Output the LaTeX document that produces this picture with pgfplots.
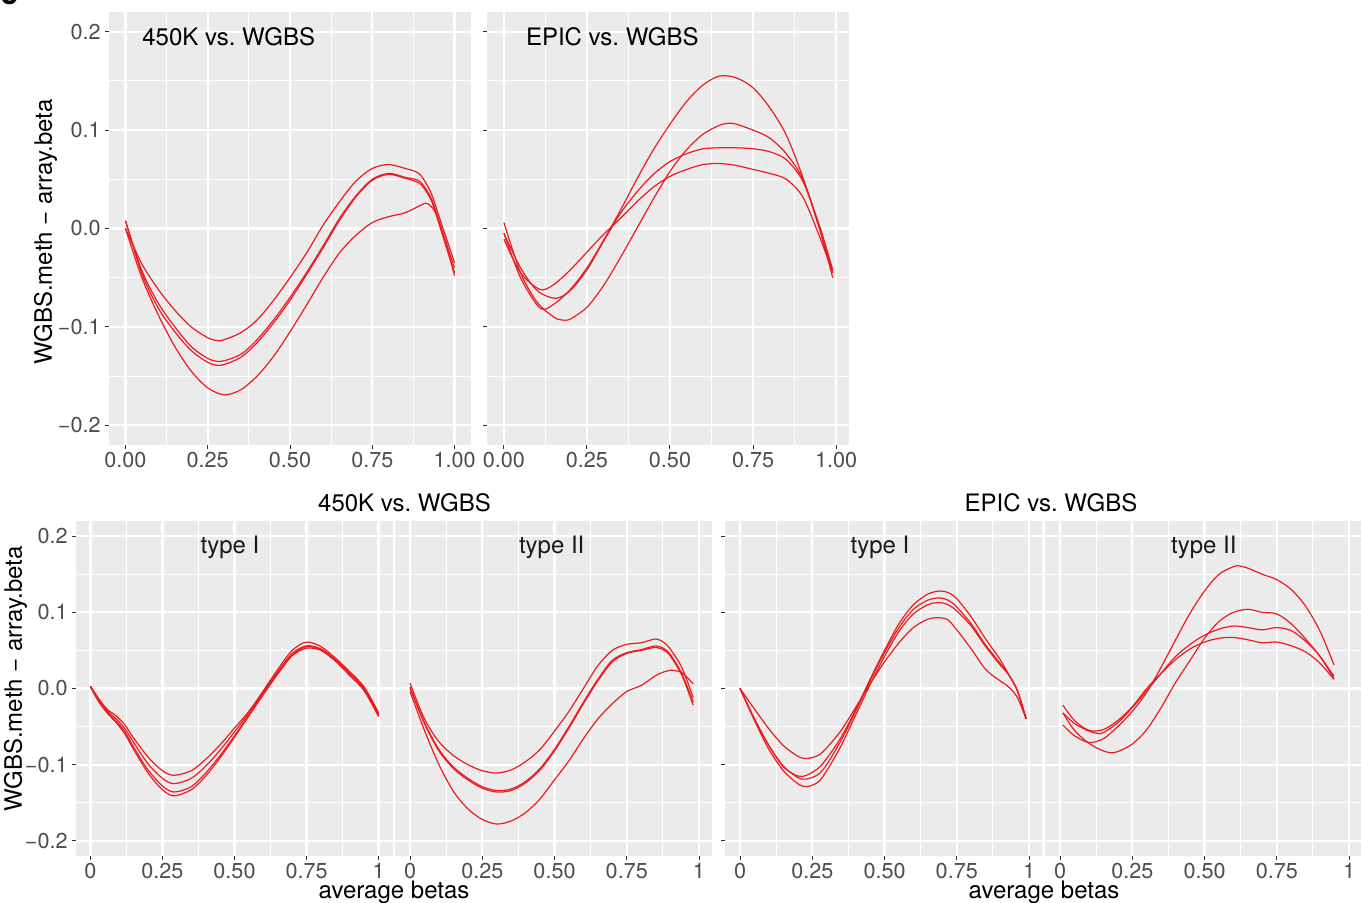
\documentclass[border=0pt]{standalone}
\usepackage{fontspec}
\setmainfont{TeX Gyre Heros}
\usepackage{pgfplots}
\pgfplotsset{compat=1.18}
\definecolor{ggbg}{HTML}{EBEBEB}
\definecolor{ggtick}{HTML}{333333}
\definecolor{ggtext}{HTML}{4D4D4D}
\definecolor{ggstrip}{HTML}{1A1A1A}
\definecolor{ggred}{RGB}{235,28,32}
\newcommand{\tfont}{\fontsize{12}{14}\selectfont}
\pgfplotsset{
 gg/.style={
  scale only axis, anchor=south west,
  axis background/.style={fill=ggbg},
  axis line style={draw=none},
  ymin=-0.22, ymax=0.22,
  xtick={0,0.25,0.5,0.75,1},
  minor xtick={0.125,0.375,0.625,0.875},
  ytick={-0.2,-0.1,0,0.1,0.2},
  minor ytick={-0.15,-0.05,0.05,0.15},
  grid=both,
  major grid style={white, line width=1.1pt},
  minor grid style={white, line width=0.55pt},
  tick pos=left,
  tick align=outside,
  major tick length=2pt,
  minor tick length=0pt,
  tick style={ggtick, line width=0.5pt},
  ticklabel style={font=\fontsize{10.8}{12}\selectfont, text=ggtext},
  xticklabel style={inner sep=1.6pt},
  yticklabel style={inner sep=2pt},
  /pgf/number format/assume math mode=true,
  every axis plot post/.append style={ggred, line width=0.6pt, smooth, mark=none},
 }
}
\begin{document}
\begin{tikzpicture}
\useasboundingbox (0,0) rectangle (680.5pt,451.5pt);
% ---------- top left: 450K vs WGBS
\begin{axis}[gg, at={(54.5pt,229pt)}, width=181pt, height=216.5pt,
  xmin=-0.05, xmax=1.05,
  xticklabels={0.00,0.25,0.50,0.75,1.00},
  yticklabels={−0.2,−0.1,0.0,0.1,0.2}]
\addplot coordinates {(0,0.0)(0.05,-0.036)(0.1,-0.062)(0.15,-0.083)(0.2,-0.1)(0.25,-0.111)(0.28,-0.114)(0.3,-0.113)(0.35,-0.106)(0.4,-0.093)(0.45,-0.073)(0.5,-0.05)(0.55,-0.025)(0.6,0.003)(0.65,0.027)(0.7,0.048)(0.75,0.061)(0.8,0.065)(0.85,0.061)(0.88,0.058)(0.9,0.053)(0.93,0.035)(0.96,0.005)(1.0,-0.035)};
\addplot coordinates {(0,0.008)(0.05,-0.043)(0.1,-0.076)(0.15,-0.1)(0.2,-0.12)(0.25,-0.132)(0.29,-0.135)(0.35,-0.128)(0.4,-0.113)(0.45,-0.093)(0.5,-0.07)(0.55,-0.045)(0.6,-0.018)(0.65,0.01)(0.7,0.033)(0.75,0.05)(0.8,0.056)(0.85,0.052)(0.88,0.05)(0.9,0.046)(0.93,0.03)(0.96,0.0)(1.0,-0.04)};
\addplot coordinates {(0,0.008)(0.05,-0.046)(0.1,-0.081)(0.15,-0.105)(0.2,-0.124)(0.25,-0.136)(0.29,-0.139)(0.35,-0.131)(0.4,-0.116)(0.45,-0.096)(0.5,-0.073)(0.55,-0.047)(0.6,-0.02)(0.65,0.008)(0.7,0.032)(0.75,0.049)(0.8,0.055)(0.85,0.051)(0.88,0.048)(0.9,0.044)(0.93,0.028)(0.96,-0.003)(1.0,-0.045)};
\addplot coordinates {(0,0.0)(0.05,-0.05)(0.1,-0.088)(0.15,-0.12)(0.2,-0.145)(0.25,-0.162)(0.3,-0.169)(0.35,-0.164)(0.4,-0.15)(0.45,-0.13)(0.5,-0.105)(0.55,-0.078)(0.6,-0.05)(0.65,-0.025)(0.7,-0.007)(0.75,0.006)(0.8,0.012)(0.85,0.016)(0.9,0.024)(0.92,0.025)(0.95,0.01)(1.0,-0.048)};
\end{axis}
% ---------- top right: EPIC vs WGBS
\begin{axis}[gg, at={(243.5pt,229pt)}, width=181pt, height=216.5pt,
  xmin=-0.051, xmax=1.039,
  xticklabels={0.00,0.25,0.50,0.75,1.00},
  yticklabels={}]
\addplot coordinates {(0,-0.005)(0.05,-0.05)(0.109,-0.081)(0.15,-0.077)(0.2,-0.062)(0.25,-0.04)(0.3,-0.012)(0.35,0.018)(0.4,0.05)(0.45,0.08)(0.5,0.106)(0.55,0.129)(0.6,0.146)(0.65,0.155)(0.7,0.153)(0.75,0.143)(0.8,0.123)(0.85,0.095)(0.9,0.052)(0.95,0.0)(0.99,-0.05)};
\addplot coordinates {(0,0.006)(0.05,-0.045)(0.1,-0.075)(0.15,-0.09)(0.175,-0.093)(0.2,-0.092)(0.25,-0.08)(0.3,-0.058)(0.35,-0.03)(0.4,0.0)(0.45,0.03)(0.5,0.058)(0.55,0.08)(0.6,0.096)(0.65,0.105)(0.68,0.107)(0.7,0.106)(0.75,0.1)(0.8,0.092)(0.85,0.076)(0.9,0.05)(0.95,0.0)(0.99,-0.045)};
\addplot coordinates {(0,-0.005)(0.05,-0.04)(0.1,-0.063)(0.155,-0.071)(0.2,-0.063)(0.25,-0.042)(0.3,-0.013)(0.35,0.015)(0.4,0.037)(0.45,0.055)(0.5,0.068)(0.55,0.076)(0.6,0.081)(0.65,0.082)(0.7,0.082)(0.75,0.081)(0.8,0.078)(0.85,0.07)(0.9,0.048)(0.95,0.003)(0.99,-0.042)};
\addplot coordinates {(0,-0.011)(0.05,-0.045)(0.109,-0.062)(0.15,-0.057)(0.2,-0.042)(0.25,-0.024)(0.3,-0.006)(0.35,0.01)(0.4,0.027)(0.45,0.042)(0.5,0.053)(0.55,0.06)(0.6,0.065)(0.65,0.066)(0.7,0.064)(0.75,0.06)(0.8,0.056)(0.85,0.05)(0.9,0.032)(0.95,-0.008)(0.99,-0.045)};
\end{axis}
% ---------- bottom: 450K type I
\begin{axis}[gg, at={(38pt,23.5pt)}, width=158.5pt, height=167.5pt,
  xmin=-0.05, xmax=1.05,
  xticklabels={0,0.25,0.50,0.75,1},
  yticklabels={−0.2,−0.1,0.0,0.1,0.2}]
\addplot coordinates {(0,0.003)(0.03,-0.014)(0.06,-0.028)(0.09,-0.036)(0.12,-0.048)(0.15,-0.065)(0.2,-0.09)(0.25,-0.108)(0.29,-0.114)(0.35,-0.108)(0.4,-0.093)(0.45,-0.074)(0.5,-0.052)(0.55,-0.03)(0.6,-0.003)(0.65,0.025)(0.7,0.05)(0.75,0.061)(0.8,0.055)(0.85,0.04)(0.9,0.022)(0.95,0.002)(1.0,-0.032)};
\addplot coordinates {(0,0.003)(0.03,-0.016)(0.06,-0.03)(0.09,-0.04)(0.12,-0.053)(0.15,-0.071)(0.2,-0.099)(0.25,-0.118)(0.29,-0.125)(0.35,-0.118)(0.4,-0.102)(0.45,-0.081)(0.5,-0.057)(0.55,-0.032)(0.6,-0.005)(0.65,0.022)(0.7,0.046)(0.75,0.056)(0.8,0.052)(0.85,0.038)(0.9,0.02)(0.95,0.0)(1.0,-0.034)};
\addplot coordinates {(0,0.003)(0.03,-0.017)(0.06,-0.032)(0.09,-0.043)(0.12,-0.057)(0.15,-0.077)(0.2,-0.107)(0.25,-0.128)(0.29,-0.136)(0.35,-0.129)(0.4,-0.111)(0.45,-0.088)(0.5,-0.062)(0.55,-0.035)(0.6,-0.007)(0.65,0.02)(0.7,0.044)(0.75,0.055)(0.8,0.051)(0.85,0.037)(0.9,0.018)(0.95,-0.002)(1.0,-0.036)};
\addplot coordinates {(0,0.002)(0.03,-0.018)(0.06,-0.033)(0.09,-0.045)(0.12,-0.06)(0.15,-0.08)(0.2,-0.111)(0.25,-0.133)(0.29,-0.141)(0.35,-0.133)(0.4,-0.115)(0.45,-0.091)(0.5,-0.064)(0.55,-0.036)(0.6,-0.008)(0.65,0.019)(0.7,0.043)(0.75,0.053)(0.8,0.05)(0.85,0.036)(0.9,0.017)(0.95,-0.003)(1.0,-0.037)};
\end{axis}
% ---------- bottom: 450K type II
\begin{axis}[gg, at={(197.5pt,23.5pt)}, width=158.5pt, height=167.5pt,
  xmin=-0.052, xmax=1.045,
  xticklabels={0,0.25,0.50,0.75,1},
  yticklabels={}, ytick style={draw=none}]
\addplot coordinates {(0,0.007)(0.05,-0.04)(0.1,-0.07)(0.15,-0.088)(0.2,-0.1)(0.25,-0.108)(0.3,-0.111)(0.35,-0.107)(0.4,-0.096)(0.45,-0.08)(0.5,-0.056)(0.55,-0.03)(0.6,0.0)(0.65,0.03)(0.7,0.05)(0.75,0.058)(0.8,0.06)(0.85,0.065)(0.88,0.06)(0.9,0.052)(0.94,0.028)(0.98,-0.012)};
\addplot coordinates {(0,0.0)(0.05,-0.045)(0.1,-0.08)(0.15,-0.103)(0.2,-0.118)(0.25,-0.129)(0.3,-0.134)(0.35,-0.132)(0.4,-0.122)(0.45,-0.105)(0.5,-0.08)(0.55,-0.05)(0.6,-0.018)(0.65,0.012)(0.7,0.037)(0.75,0.047)(0.8,0.051)(0.85,0.056)(0.88,0.052)(0.9,0.045)(0.94,0.02)(0.98,-0.018)};
\addplot coordinates {(0,0.002)(0.05,-0.046)(0.1,-0.082)(0.15,-0.105)(0.2,-0.12)(0.25,-0.131)(0.3,-0.136)(0.35,-0.134)(0.4,-0.124)(0.45,-0.107)(0.5,-0.082)(0.55,-0.052)(0.6,-0.02)(0.65,0.01)(0.7,0.035)(0.75,0.046)(0.8,0.05)(0.85,0.054)(0.88,0.05)(0.9,0.043)(0.94,0.018)(0.98,-0.022)};
\addplot coordinates {(0,-0.004)(0.05,-0.055)(0.1,-0.1)(0.15,-0.135)(0.2,-0.158)(0.25,-0.172)(0.3,-0.178)(0.35,-0.174)(0.4,-0.163)(0.45,-0.145)(0.5,-0.12)(0.55,-0.095)(0.6,-0.066)(0.65,-0.04)(0.7,-0.02)(0.75,-0.004)(0.8,0.004)(0.85,0.017)(0.88,0.022)(0.9,0.024)(0.94,0.021)(0.98,0.006)};
\end{axis}
% ---------- bottom: EPIC type I
\begin{axis}[gg, at={(362.5pt,23.5pt)}, width=158.5pt, height=167.5pt,
  xmin=-0.052, xmax=1.045,
  xticklabels={0,0.25,0.50,0.75,1},
  yticklabels={}]
\addplot coordinates {(0,0)(0.05,-0.027)(0.1,-0.053)(0.15,-0.075)(0.2,-0.089)(0.23,-0.092)(0.27,-0.088)(0.3,-0.078)(0.35,-0.055)(0.4,-0.025)(0.45,0.006)(0.5,0.035)(0.55,0.06)(0.6,0.08)(0.65,0.091)(0.69,0.093)(0.72,0.09)(0.75,0.077)(0.8,0.052)(0.85,0.025)(0.9,0.01)(0.93,0.002)(0.96,-0.012)(0.99,-0.04)};
\addplot coordinates {(0,0)(0.05,-0.04)(0.1,-0.075)(0.15,-0.103)(0.2,-0.115)(0.23,-0.114)(0.27,-0.105)(0.3,-0.092)(0.35,-0.064)(0.4,-0.028)(0.45,0.012)(0.5,0.05)(0.55,0.085)(0.6,0.11)(0.65,0.124)(0.69,0.128)(0.72,0.126)(0.75,0.118)(0.8,0.094)(0.85,0.065)(0.9,0.038)(0.93,0.018)(0.96,-0.003)(0.99,-0.04)};
\addplot coordinates {(0,0)(0.05,-0.04)(0.1,-0.075)(0.15,-0.102)(0.2,-0.117)(0.23,-0.119)(0.27,-0.113)(0.3,-0.1)(0.35,-0.068)(0.4,-0.03)(0.45,0.01)(0.5,0.047)(0.55,0.08)(0.6,0.104)(0.65,0.116)(0.69,0.119)(0.72,0.116)(0.75,0.107)(0.8,0.085)(0.85,0.057)(0.9,0.033)(0.93,0.018)(0.96,-0.003)(0.99,-0.04)};
\addplot coordinates {(0,0)(0.05,-0.042)(0.1,-0.08)(0.15,-0.108)(0.2,-0.125)(0.23,-0.129)(0.27,-0.123)(0.3,-0.108)(0.35,-0.075)(0.4,-0.035)(0.45,0.005)(0.5,0.042)(0.55,0.075)(0.6,0.098)(0.65,0.11)(0.69,0.113)(0.72,0.11)(0.75,0.102)(0.8,0.082)(0.85,0.055)(0.9,0.031)(0.93,0.018)(0.96,-0.003)(0.99,-0.04)};
\end{axis}
% ---------- bottom: EPIC type II
\begin{axis}[gg, at={(522.5pt,23.5pt)}, width=158pt, height=167.5pt,
  xmin=-0.052, xmax=1.0415,
  xticklabels={0,0.25,0.50,0.75,1},
  yticklabels={}, ytick style={draw=none}]
\addplot coordinates {(0.01,-0.048)(0.05,-0.062)(0.1,-0.071)(0.15,-0.066)(0.2,-0.05)(0.25,-0.03)(0.3,-0.005)(0.35,0.028)(0.4,0.064)(0.45,0.099)(0.5,0.128)(0.55,0.15)(0.6,0.16)(0.62,0.161)(0.65,0.158)(0.7,0.15)(0.75,0.143)(0.8,0.13)(0.85,0.108)(0.9,0.075)(0.948,0.031)};
\addplot coordinates {(0.01,-0.032)(0.05,-0.055)(0.1,-0.072)(0.15,-0.082)(0.19,-0.084)(0.25,-0.073)(0.3,-0.054)(0.35,-0.025)(0.4,0.008)(0.45,0.037)(0.5,0.066)(0.55,0.088)(0.6,0.1)(0.65,0.104)(0.7,0.1)(0.75,0.098)(0.8,0.085)(0.85,0.065)(0.9,0.042)(0.948,0.016)};
\addplot coordinates {(0.01,-0.032)(0.05,-0.046)(0.1,-0.056)(0.13,-0.059)(0.15,-0.058)(0.2,-0.045)(0.25,-0.025)(0.3,-0.003)(0.35,0.02)(0.4,0.042)(0.45,0.058)(0.5,0.07)(0.55,0.078)(0.6,0.082)(0.65,0.08)(0.7,0.077)(0.75,0.08)(0.8,0.076)(0.85,0.062)(0.9,0.042)(0.948,0.013)};
\addplot coordinates {(0.01,-0.022)(0.05,-0.042)(0.1,-0.055)(0.15,-0.054)(0.2,-0.042)(0.25,-0.024)(0.3,0.0)(0.35,0.02)(0.4,0.038)(0.45,0.052)(0.5,0.061)(0.55,0.066)(0.6,0.067)(0.65,0.064)(0.7,0.06)(0.75,0.061)(0.8,0.056)(0.85,0.048)(0.9,0.033)(0.948,0.012)};
\end{axis}
% ---------- text
\node[anchor=base west, font=\bfseries\fontsize{16}{16}\selectfont, inner sep=0pt] at (0pt,449pt) {c};
\node[anchor=base west, font=\tfont, inner sep=0pt] at (71pt,428.5pt) {450K vs.\ WGBS};
\node[anchor=base west, font=\tfont, inner sep=0pt] at (262.8pt,428.5pt) {EPIC vs.\ WGBS};
\node[rotate=90, font=\tfont, inner sep=0pt] at (22.75pt,335.5pt) {WGBS.meth − array.beta};
\node[rotate=90, font=\tfont, inner sep=0pt] at (7.75pt,112pt) {WGBS.meth − array.beta};
\node[anchor=base, font=\tfont, inner sep=0pt] at (202.25pt,195.5pt) {450K vs.\ WGBS};
\node[anchor=base, font=\tfont, inner sep=0pt] at (525.5pt,195.5pt) {EPIC vs.\ WGBS};
\node[anchor=base, font=\tfont, text=ggstrip, inner sep=0pt] at (115pt,174.85pt) {type I};
\node[anchor=base, font=\tfont, text=ggstrip, inner sep=0pt] at (275.85pt,174.85pt) {type II};
\node[anchor=base, font=\tfont, text=ggstrip, inner sep=0pt] at (440pt,174.85pt) {type I};
\node[anchor=base, font=\tfont, text=ggstrip, inner sep=0pt] at (601.9pt,174.85pt) {type II};
\node[anchor=base, font=\tfont, inner sep=0pt] at (197pt,2.2pt) {average betas};
\node[anchor=base, font=\tfont, inner sep=0pt] at (522pt,2.2pt) {average betas};
\end{tikzpicture}
\end{document}
